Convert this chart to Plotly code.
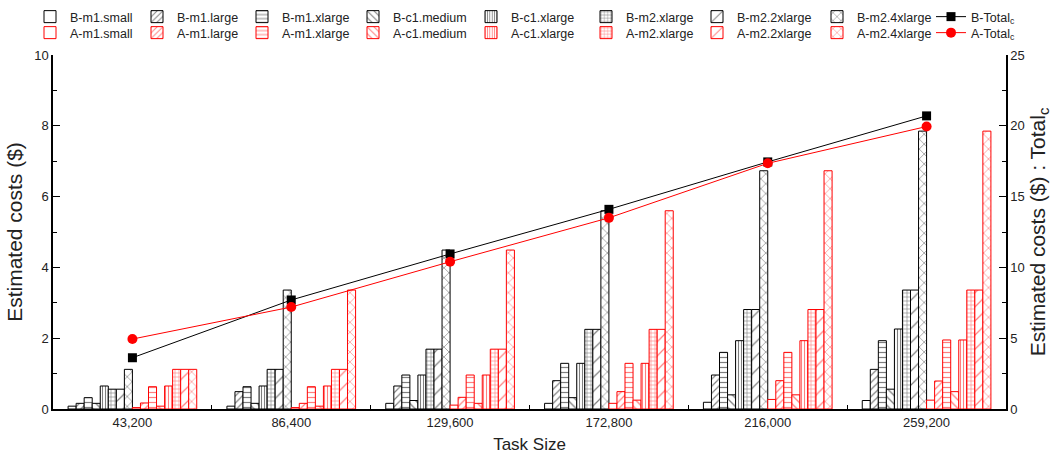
import plotly.graph_objects as go

categories = ["43,200", "86,400", "129,600", "172,800", "216,000", "259,200"]
instance_names = ["m1.small", "m1.large", "m1.xlarge", "c1.medium",
                  "c1.xlarge", "m2.xlarge", "m2.2xlarge", "m2.4xlarge"]

B_m1_small = [0.08, 0.08, 0.16, 0.16, 0.19, 0.24]
B_m1_large = [0.16, 0.49, 0.65, 0.80, 0.96, 1.12]
B_m1_xlarge = [0.32, 0.63, 0.96, 1.29, 1.60, 1.93]
B_c1_medium = [0.16, 0.16, 0.24, 0.32, 0.40, 0.56]
B_c1_xlarge = [0.65, 0.65, 0.96, 1.29, 1.93, 2.26]
B_m2_xlarge = [0.56, 1.12, 1.69, 2.25, 2.81, 3.36]
B_m2_2xlarge = [0.56, 1.12, 1.69, 2.25, 2.81, 3.36]
B_m2_4xlarge = [1.12, 3.36, 4.49, 5.60, 6.73, 7.85]

A_m1_small = [0.04, 0.04, 0.11, 0.16, 0.27, 0.25]
A_m1_large = [0.17, 0.16, 0.33, 0.49, 0.80, 0.79]
A_m1_xlarge = [0.63, 0.63, 0.96, 1.29, 1.60, 1.95]
A_c1_medium = [0.08, 0.08, 0.16, 0.25, 0.40, 0.49]
A_c1_xlarge = [0.65, 0.65, 0.96, 1.29, 1.93, 1.95]
A_m2_xlarge = [1.12, 1.12, 1.69, 2.25, 2.81, 3.36]
A_m2_2xlarge = [1.12, 1.12, 1.69, 2.25, 2.81, 3.36]
A_m2_4xlarge = [1.12, 3.36, 4.49, 5.60, 6.73, 7.85]

B_total = [3.62, 7.70, 10.95, 14.10, 17.45, 20.70]
A_total = [4.94, 7.20, 10.40, 13.50, 17.35, 19.95]

B_series = [B_m1_small, B_m1_large, B_m1_xlarge, B_c1_medium,
            B_c1_xlarge, B_m2_xlarge, B_m2_2xlarge, B_m2_4xlarge]
A_series = [A_m1_small, A_m1_large, A_m1_xlarge, A_c1_medium,
            A_c1_xlarge, A_m2_xlarge, A_m2_2xlarge, A_m2_4xlarge]

# (shape, size, solidity) per instance type
patterns = [("", 6, 0.2), ("/", 5, 0.24), ("-", 5, 0.24), ("\\", 6, 0.22),
            ("|", 3, 0.36), ("+", 4, 0.28), ("/", 10, 0.12), ("x", 7, 0.18)]
# legend entry text widths (px) matching the reference spacing
legend_widths = [62, 60, 66, 73, 70, 66, 75, 76]

FONT = "Arial, Liberation Sans, sans-serif"
TXT = "#222222"

fig = go.Figure()


def add_bars(prefix, series, color, legend):
    for name, vals, (shape, size, sol), lw in zip(instance_names, series, patterns, legend_widths):
        fig.add_trace(go.Bar(
            x=categories, y=vals, name=f"{prefix}-{name}",
            legend=legend, legendwidth=lw,
            marker=dict(color="white",
                        line=dict(color=color, width=1),
                        pattern=dict(shape=shape, fgcolor=color, bgcolor="white",
                                     size=size, solidity=sol, fillmode="overlay")),
        ))


add_bars("B", B_series, "black", "legend")
fig.add_trace(go.Scatter(x=categories, y=B_total, name="B-Total<sub>c</sub>", yaxis="y2",
                         legend="legend3", mode="lines+markers",
                         line=dict(color="black", width=1),
                         marker=dict(symbol="square", size=9, color="black")))
add_bars("A", A_series, "red", "legend2")
fig.add_trace(go.Scatter(x=categories, y=A_total, name="A-Total<sub>c</sub>", yaxis="y2",
                         legend="legend4", mode="lines+markers",
                         line=dict(color="red", width=1),
                         marker=dict(symbol="circle", size=10, color="red")))

legend_common = dict(orientation="h", xanchor="left", yanchor="middle",
                     font=dict(family=FONT, size=12.5, color=TXT),
                     bgcolor="rgba(0,0,0,0)", borderwidth=0,
                     tracegroupgap=0, itemwidth=30)

x_leg_bars = (30 - 53) / 953
x_leg_tot = (931 - 53) / 953
y_row1 = (409 - 17) / 354
y_row2 = (409 - 33) / 354

fig.update_layout(
    width=1059, height=459,
    margin=dict(l=53, r=53, t=55, b=50, autoexpand=False),
    plot_bgcolor="white", paper_bgcolor="white",
    font=dict(family=FONT, size=13, color=TXT),
    barmode="group", bargap=0.19, bargroupgap=0,
    showlegend=True,
    legend=dict(x=x_leg_bars, y=y_row1, **legend_common),
    legend2=dict(x=x_leg_bars, y=y_row2, **legend_common),
    legend3=dict(x=x_leg_tot, y=y_row1, **legend_common),
    legend4=dict(x=x_leg_tot, y=y_row2, **legend_common),
    xaxis=dict(type="category", range=[-0.5, 5.5],
               showline=True, linecolor="black", linewidth=2,
               ticks="inside", tickson="boundaries", ticklen=4, tickcolor="black",
               showgrid=False, zeroline=False,
               tickfont=dict(size=13, color=TXT),
               title=dict(text="Task Size", font=dict(size=17, color=TXT), standoff=10)),
    yaxis=dict(range=[0, 10], dtick=2, showline=True, linecolor="black", linewidth=1.5,
               ticks="inside", ticklen=7, tickcolor="black",
               minor=dict(dtick=1, ticks="inside", ticklen=4, tickcolor="black"),
               showgrid=False, zeroline=False,
               tickfont=dict(size=13, color=TXT),
               title=dict(text="Estimated costs ($)", font=dict(size=21, color=TXT), standoff=6)),
    yaxis2=dict(range=[0, 25], dtick=5, overlaying="y", side="right",
                showline=True, linecolor="black", linewidth=1.5,
                ticks="inside", ticklen=7, tickcolor="black",
                minor=dict(dtick=2.5, ticks="inside", ticklen=4, tickcolor="black"),
                showgrid=False, zeroline=False,
                tickfont=dict(size=13, color=TXT),
                title=dict(text="Estimated costs ($) : Total<sub>c</sub>",
                           font=dict(size=21, color=TXT), standoff=6)),
)

fig.write_html("out.html")
